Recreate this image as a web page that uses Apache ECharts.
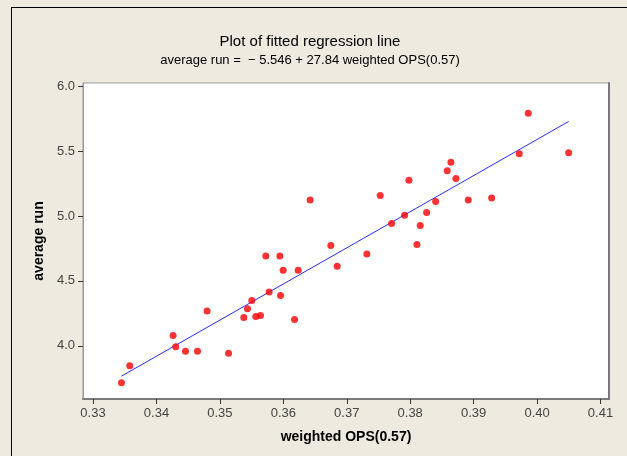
<!DOCTYPE html>
<html>
<head>
<meta charset="utf-8">
<script src="https://cdn.jsdelivr.net/npm/echarts@6/dist/echarts.min.js"></script>
<style>
html,body{margin:0;padding:0;background:#EEEAE0;}
#chart{width:627px;height:456px;}
</style>
</head>
<body>
<div id="chart"></div>
<script>
// Observed data: weighted OPS(0.57) vs average run
const weightedOPS = [
  0.33448, 0.33579, 0.34262, 0.34304, 0.34457, 0.34647, 0.34798, 0.35136,
  0.35377, 0.35435, 0.35503, 0.35566, 0.35640, 0.35724, 0.35776, 0.35945,
  0.35956, 0.35997, 0.36177, 0.36234, 0.36423, 0.36749, 0.36849, 0.37317,
  0.37527, 0.37707, 0.37912, 0.37980, 0.38106, 0.38158, 0.38259, 0.38401,
  0.38584, 0.38642, 0.38721, 0.38915, 0.39284, 0.39719, 0.39861, 0.40498
];
const averageRun = [
  3.715, 3.846, 4.080, 3.992, 3.957, 3.957, 4.269, 3.942,
  4.218, 4.285, 4.349, 4.226, 4.234, 4.692, 4.415, 4.692,
  4.388, 4.582, 4.203, 4.582, 5.123, 4.772, 4.613, 4.708,
  5.159, 4.942, 5.005, 5.275, 4.780, 4.926, 5.028, 5.111,
  5.349, 5.415, 5.290, 5.123, 5.138, 5.480, 5.792, 5.487
];
// Fitted regression line: average run = -5.546 + 27.84 * weighted OPS
const intercept = -5.546;
const slope = 27.84;
// Tick values
const xTicks = [0.33, 0.34, 0.35, 0.36, 0.37, 0.38, 0.39, 0.40, 0.41];
const yTicks = [4.0, 4.5, 5.0, 5.5, 6.0];

const points = weightedOPS.map((x, i) => [x, averageRun[i]]);
const xMinData = Math.min(...weightedOPS);
const xMaxData = Math.max(...weightedOPS);
const fitLine = [
  [xMinData, intercept + slope * xMinData],
  [xMaxData, intercept + slope * xMaxData]
];

const FONT = 'Liberation Sans, Arial, sans-serif';
const chart = echarts.init(document.getElementById('chart'));
chart.setOption({
  backgroundColor: '#EEEAE0',
  animation: false,
  title: {
    text: 'Plot of fitted regression line',
    subtext: 'average run =  \u2212 5.546 + 27.84 weighted OPS(0.57)',
    left: 310,
    textAlign: 'center',
    top: 34,
    itemGap: 5,
    padding: 0,
    textStyle: {fontFamily: FONT, fontSize: 15, fontWeight: 'normal', color: '#000'},
    subtextStyle: {fontFamily: FONT, fontSize: 13, color: '#000'}
  },
  graphic: [
    {type: 'line', shape: {x1: 11, y1: 7.5, x2: 627, y2: 7.5}, style: {stroke: '#000', lineWidth: 1}, silent: true},
    {type: 'line', shape: {x1: 11.5, y1: 7, x2: 11.5, y2: 456}, style: {stroke: '#000', lineWidth: 1}, silent: true}
  ],
  grid: {
    left: 83, right: 18, top: 83, bottom: 57,
    show: true, backgroundColor: '#fff', borderColor: '#999', borderWidth: 1,
    containLabel: false
  },
  xAxis: {
    type: 'value',
    min: 0.32842, max: 0.41134,
    name: 'weighted OPS(0.57)',
    nameLocation: 'middle',
    nameGap: 31,
    nameTextStyle: {fontFamily: FONT, fontSize: 14, fontWeight: 'bold', color: '#000'},
    axisLine: {show: true, onZero: false, lineStyle: {color: '#7a7a7a', width: 2}},
    axisTick: {show: true, length: 5, customValues: xTicks, lineStyle: {color: '#333'}},
    axisLabel: {customValues: xTicks, margin: 8, color: '#444', fontFamily: FONT, fontSize: 13,
      formatter: v => v.toFixed(2)},
    splitLine: {show: false}
  },
  yAxis: [{
    type: 'value',
    min: 3.59, max: 6.025,
    name: 'average run',
    nameLocation: 'middle',
    nameGap: 36,
    nameTextStyle: {fontFamily: FONT, fontSize: 14, fontWeight: 'bold', color: '#000'},
    axisLine: {show: true, onZero: false, lineStyle: {color: '#999', width: 1}},
    axisTick: {show: true, length: 5, customValues: yTicks, lineStyle: {color: '#333'}},
    axisLabel: {customValues: yTicks, margin: 8, color: '#444', fontFamily: FONT, fontSize: 13,
      formatter: v => v.toFixed(1)},
    splitLine: {show: false}
  }, {
    type: 'value',
    position: 'right',
    min: 3.59, max: 6.025,
    axisLine: {show: true, onZero: false, lineStyle: {color: '#7a7a7a', width: 2}},
    axisTick: {show: false},
    axisLabel: {show: false},
    splitLine: {show: false}
  }],
  series: [{
    type: 'line',
    data: fitLine,
    showSymbol: false,
    symbol: 'none',
    lineStyle: {color: '#2a2aff', width: 1},
    z: 2
  }, {
    type: 'scatter',
    data: points,
    symbol: 'circle',
    symbolSize: 7,
    itemStyle: {color: '#ff0000'},
    z: 3
  }]
});
</script>
</body>
</html>
